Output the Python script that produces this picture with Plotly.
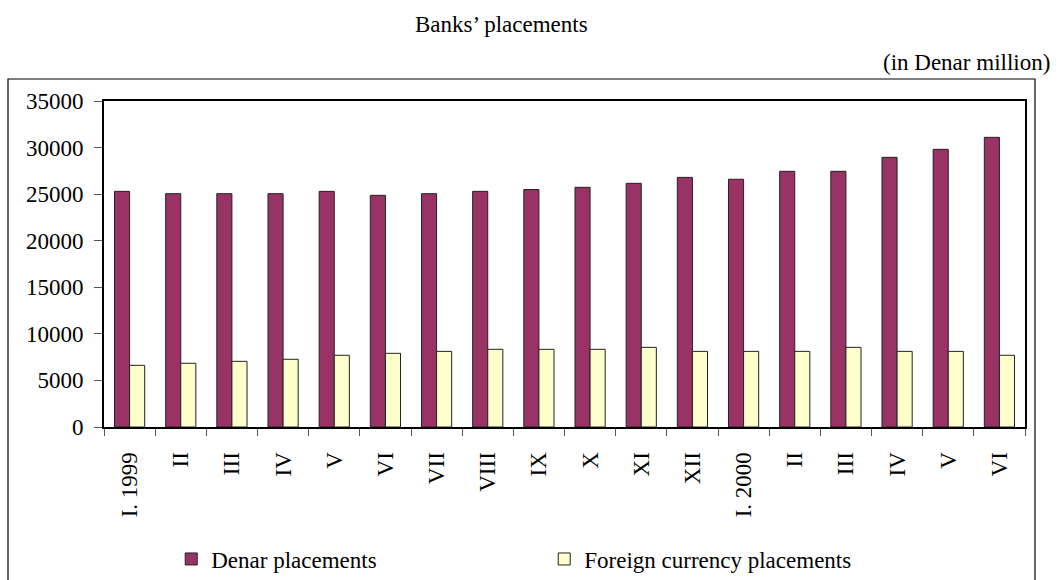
import plotly.graph_objects as go

periods = ["1999-01", "1999-02", "1999-03", "1999-04", "1999-05", "1999-06",
           "1999-07", "1999-08", "1999-09", "1999-10", "1999-11", "1999-12",
           "2000-01", "2000-02", "2000-03", "2000-04", "2000-05", "2000-06"]
tick_labels = ["I. 1999", "II", "III", "IV", "V", "VI", "VII", "VIII", "IX", "X",
               "XI", "XII", "I. 2000", "II", "III", "IV", "V", "VI"]
denar = [25300, 25050, 25050, 25050, 25300, 24870, 25050, 25300, 25500,
         25730, 26160, 26800, 26600, 27450, 27450, 28950, 29810, 31100]
foreign = [6620, 6840, 7050, 7270, 7700, 7910, 8120, 8340, 8340,
           8340, 8550, 8120, 8120, 8120, 8550, 8120, 8120, 7700]
y_ticks = [0, 5000, 10000, 15000, 20000, 25000, 30000, 35000]

FONT = "Liberation Serif, Times New Roman, serif"

fig = go.Figure()
fig.add_trace(go.Bar(
    x=periods, y=denar, name="Denar placements",
    marker=dict(color="#993366", line=dict(color="#222222", width=1))
))
fig.add_trace(go.Bar(
    x=periods, y=foreign, name="Foreign currency placements",
    marker=dict(color="#FFFFCC", line=dict(color="#222222", width=1))
))

fig.update_layout(
    width=1059, height=580,
    margin=dict(l=104, r=34, t=101, b=153, autoexpand=False),
    paper_bgcolor="white", plot_bgcolor="white",
    font=dict(family=FONT, size=20, color="black"),
    barmode="group", bargap=0.41, bargroupgap=0,
    showlegend=True,
    legend=dict(
        orientation="h", x=0.073, xanchor="left", y=-0.405, yanchor="middle",
        font=dict(family=FONT, size=23, color="black"),
        entrywidth=328, itemwidth=30, bgcolor="rgba(0,0,0,0)",
    ),
    annotations=[
        dict(text="Banks’ placements", xref="paper", yref="paper",
             x=(501 - 104) / 921, y=1 + (101 - 24) / 326,
             xanchor="center", yanchor="middle", showarrow=False,
             font=dict(family=FONT, size=23, color="black")),
        dict(text="(in Denar million)", xref="paper", yref="paper",
             x=(1052 - 104) / 921, y=1 + (101 - 62) / 326,
             xanchor="right", yanchor="middle", showarrow=False,
             font=dict(family=FONT, size=23, color="black")),
    ],
    shapes=[
        dict(type="rect", xref="paper", yref="paper",
             x0=(8 - 104) / 921, x1=(1035 - 104) / 921,
             y0=-(590 - 427) / 326, y1=1 + (101 - 79) / 326,
             line=dict(color="black", width=1.2), fillcolor="rgba(0,0,0,0)",
             layer="below"),
    ],
)

fig.update_xaxes(
    type="category", tickmode="array", tickvals=periods, ticktext=tick_labels,
    tickson="boundaries", ticks="outside", ticklen=7, tickcolor="#555555",
    tickangle=-90, ticklabelstandoff=14, automargin=False,
    tickfont=dict(family=FONT, size=23, color="black"),
    showline=True, linecolor="black", linewidth=2, mirror=True,
    showgrid=False, zeroline=False,
)
fig.update_yaxes(
    range=[0, 35000], tickvals=y_ticks, ticktext=[str(v) for v in y_ticks],
    ticks="outside", ticklen=8, tickcolor="#555555", ticklabelstandoff=6,
    automargin=False,
    tickfont=dict(family=FONT, size=23, color="black"),
    showline=True, linecolor="black", linewidth=2, mirror=True,
    showgrid=False, zeroline=False,
)

fig.write_html("out.html", config={"displayModeBar": False},
               post_script="document.body.style.margin='0';")
